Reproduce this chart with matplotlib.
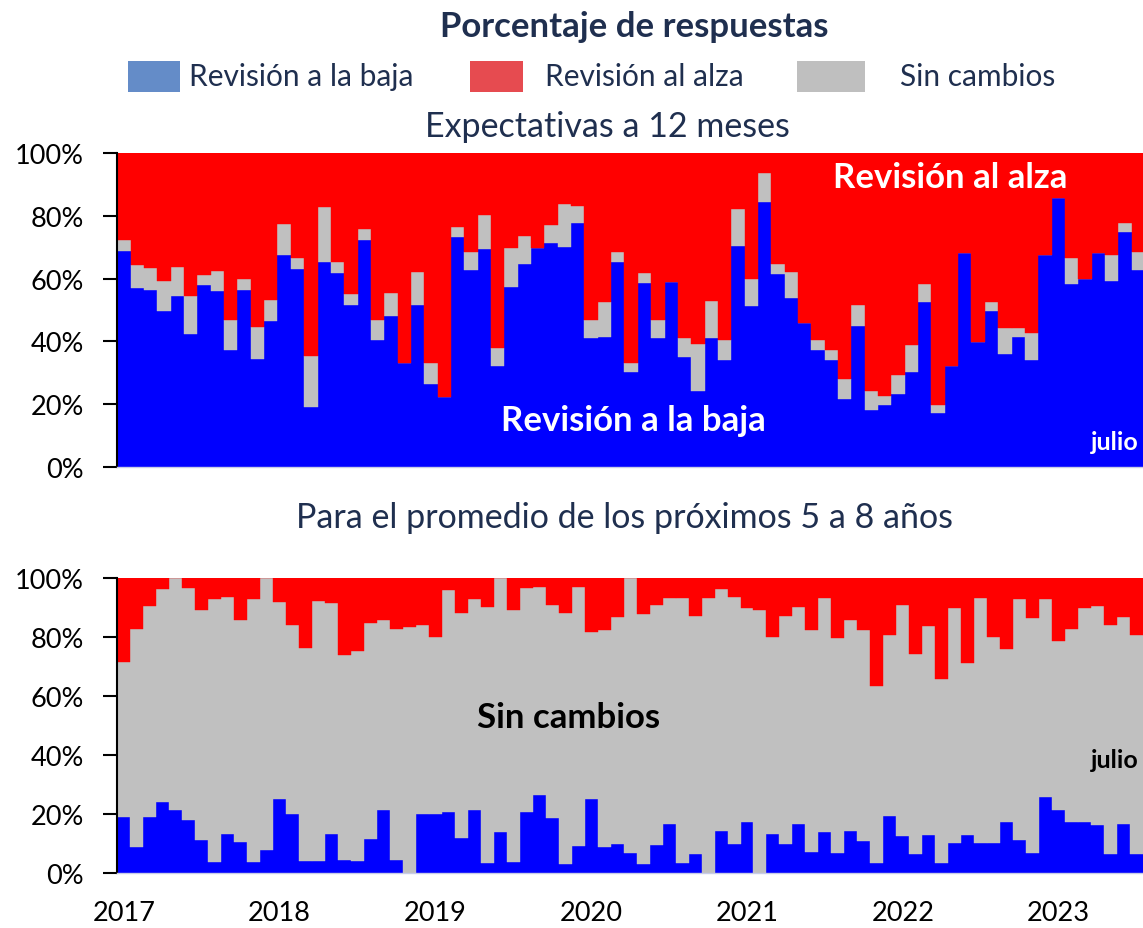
import numpy as np
import matplotlib
matplotlib.use("Agg")
import matplotlib.pyplot as plt
from matplotlib.patches import Rectangle

plt.rcParams['font.family'] = ['Lato', 'DejaVu Sans']

# Expectativas a 12 meses (% de respuestas)
baja_12m = [68.9, 57.0, 56.5, 49.8, 54.5, 42.3, 58.0, 56.2, 37.3, 56.5,
            34.4, 46.5, 67.6, 63.2, 19.1, 65.3, 61.9, 51.7, 72.3, 40.5,
            48.0, 33.2, 51.7, 26.5, 22.1, 73.2, 62.8, 69.5, 32.2, 57.4,
            64.6, 69.7, 71.3, 70.2, 77.7, 41.0, 41.5, 65.3, 30.2, 58.7,
            41.0, 58.8, 35.1, 24.0, 41.0, 34.1, 70.4, 51.4, 84.4, 61.6,
            53.9, 45.9, 37.2, 34.1, 21.7, 45.0, 18.0, 19.8, 23.3, 30.3,
            52.7, 17.0, 32.2, 68.3, 39.9, 49.8, 36.1, 41.5, 34.1, 67.6,
            85.6, 58.3, 59.9, 68.3, 59.4, 74.8, 62.8]
alza_12m = [27.6, 35.7, 36.6, 40.7, 36.4, 45.4, 38.8, 37.6, 53.3, 40.1,
            55.3, 46.8, 22.7, 33.3, 64.7, 17.2, 34.6, 44.9, 24.1, 53.2,
            44.6, 66.8, 38.0, 66.8, 77.9, 23.4, 31.5, 19.6, 62.0, 30.3,
            26.5, 30.3, 23.0, 16.2, 16.8, 53.1, 47.3, 31.4, 66.8, 38.3,
            53.1, 41.2, 59.0, 60.7, 47.1, 59.6, 17.7, 40.1, 6.3, 35.3,
            38.0, 54.1, 59.6, 62.8, 72.0, 48.4, 76.0, 77.3, 70.7, 61.3,
            41.7, 80.2, 67.8, 31.7, 60.1, 47.4, 55.7, 55.7, 57.3, 32.4,
            14.4, 33.4, 40.1, 31.7, 32.4, 22.2, 31.5]

# Promedio de los próximos 5 a 8 años (ene-2017 a jul-2023)
baja_58 = [18.9, 8.7, 18.9, 24.0, 21.3, 17.9, 11.0, 3.6, 13.1, 10.5,
           3.6, 7.8, 24.9, 19.9, 3.9, 3.9, 13.0, 4.3, 4.0, 11.4,
           21.3, 4.3, 0.0, 19.9, 19.9, 20.7, 11.9, 21.3, 3.2, 13.7,
           3.6, 20.6, 26.5, 18.6, 2.9, 8.9, 24.9, 8.7, 9.9, 6.6,
           2.9, 9.3, 16.5, 3.3, 6.3, 0.0, 14.2, 9.6, 17.1, 0.0,
           13.1, 9.6, 16.5, 7.0, 13.7, 6.8, 14.2, 10.6, 3.2, 19.3,
           12.5, 6.3, 12.8, 3.4, 10.0, 12.8, 10.0, 10.0, 17.1, 11.1,
           6.8, 25.7, 21.4, 17.1, 17.1, 16.1, 6.3, 16.5, 6.3]
alza_58 = [28.5, 17.2, 9.3, 3.7, 0.0, 3.3, 10.9, 7.1, 6.5, 14.0,
           7.1, 0.0, 8.0, 15.7, 23.8, 7.8, 8.4, 25.9, 24.8, 15.1,
           14.2, 17.2, 16.4, 15.9, 19.8, 4.0, 11.7, 7.0, 9.9, 0.0,
           10.9, 3.3, 3.1, 9.1, 11.8, 2.9, 18.3, 17.4, 13.3, 0.0,
           12.2, 9.2, 6.6, 6.8, 12.7, 6.8, 3.5, 6.3, 10.1, 10.9,
           19.8, 12.8, 9.9, 17.6, 6.8, 20.4, 14.2, 17.7, 36.5, 19.3,
           9.2, 25.6, 16.1, 34.2, 10.0, 28.9, 6.6, 19.8, 24.0, 7.2,
           13.6, 7.2, 21.2, 17.2, 10.2, 9.5, 15.9, 13.3, 19.1]

years = ['2017', '2018', '2019', '2020', '2021', '2022', '2023']

AZUL = '#0000FF'
ROJO = '#FF0000'
GRIS = '#C0C0C0'
NAVY = '#1F2F4F'

W, H = 1143, 929
fig = plt.figure(figsize=(W / 100, H / 100), dpi=100)


def px_axes(x0, y0, x1, y1):
    return fig.add_axes([x0 / W, 1 - y1 / H, (x1 - x0) / W, (y1 - y0) / H])


def stacked(ax, baja, alza):
    baja = np.array(baja)
    alza = np.array(alza)
    sin = np.clip(100 - baja - alza, 0, None)
    x = np.arange(len(baja))
    ax.bar(x, baja, width=1, align='edge', color=AZUL, edgecolor=AZUL, lw=0.3)
    ax.bar(x, sin, bottom=baja, width=1, align='edge', color=GRIS, edgecolor=GRIS, lw=0.3)
    ax.bar(x, alza, bottom=baja + sin, width=1, align='edge', color=ROJO, edgecolor=ROJO, lw=0.3)
    ax.set_xlim(0, len(baja))
    ax.set_ylim(0, 100)
    ax.set_yticks(range(0, 101, 20))
    ax.set_yticklabels([f'{v}%' for v in range(0, 101, 20)], fontsize=19.5)
    ax.tick_params(axis='y', length=10, width=1.5, pad=14)
    for s in ['top', 'right']:
        ax.spines[s].set_visible(False)
    ax.spines['left'].set_linewidth(1.5)
    ax.spines['bottom'].set_color('#c8cce8')
    ax.spines['bottom'].set_linewidth(1)


ax1 = px_axes(117.3, 154.3, 1145, 467.7)
stacked(ax1, baja_12m, alza_12m)
ax1.set_xticks([])
ax1.text(0.81, 0.925, 'Revisión al alza', transform=ax1.transAxes, color='white',
         fontsize=25, fontweight='bold', ha='center', va='center')
ax1.text(0.502, 0.15, 'Revisión a la baja', transform=ax1.transAxes, color='white',
         fontsize=25, fontweight='bold', ha='center', va='center')
ax1.text(0.994, 0.08, 'julio', transform=ax1.transAxes, color='white',
         fontsize=18, fontweight='bold', ha='right', va='center')

ax2 = px_axes(117.3, 579.3, 1143, 873.7)
stacked(ax2, baja_58, alza_58)
ax2.set_xticks(np.arange(len(years)) * 12 + 0.5)
ax2.set_xticklabels(years, fontsize=19.5)
ax2.tick_params(axis='x', length=0, pad=20)
ax2.text(0.44, 0.53, 'Sin cambios', transform=ax2.transAxes, color='black',
         fontsize=25, fontweight='bold', ha='center', va='center')
ax2.text(0.996, 0.385, 'julio', transform=ax2.transAxes, color='black',
         fontsize=18, fontweight='bold', ha='right', va='center')

# titulos
fig.text(634 / W, 1 - 27 / H, 'Porcentaje de respuestas', color=NAVY,
         fontsize=25, fontweight='bold', ha='center', va='center')
fig.text(607 / W, 1 - 127 / H, 'Expectativas a 12 meses', color=NAVY,
         fontsize=24.5, ha='center', va='center')
fig.text(625 / W, 1 - 518 / H, 'Para el promedio de los próximos 5 a 8 años', color=NAVY,
         fontsize=24.5, ha='center', va='center')

# leyenda
legend_items = [('Revisión a la baja', '#648CC8', 128, 180, 189),
                ('Revisión al alza', '#E64B50', 470, 523, 545),
                ('Sin cambios', '#BFBFBF', 797, 865, 900)]
for label, col, x0, x1, xt in legend_items:
    fig.patches.append(Rectangle((x0 / W, 1 - 93 / H), (x1 - x0) / W, 31 / H,
                                 transform=fig.transFigure, facecolor=col,
                                 edgecolor='none'))
    fig.text(xt / W, 1 - 77 / H, label, color=NAVY, fontsize=21.5,
             ha='left', va='center')

fig.savefig('out.png', dpi=100)
